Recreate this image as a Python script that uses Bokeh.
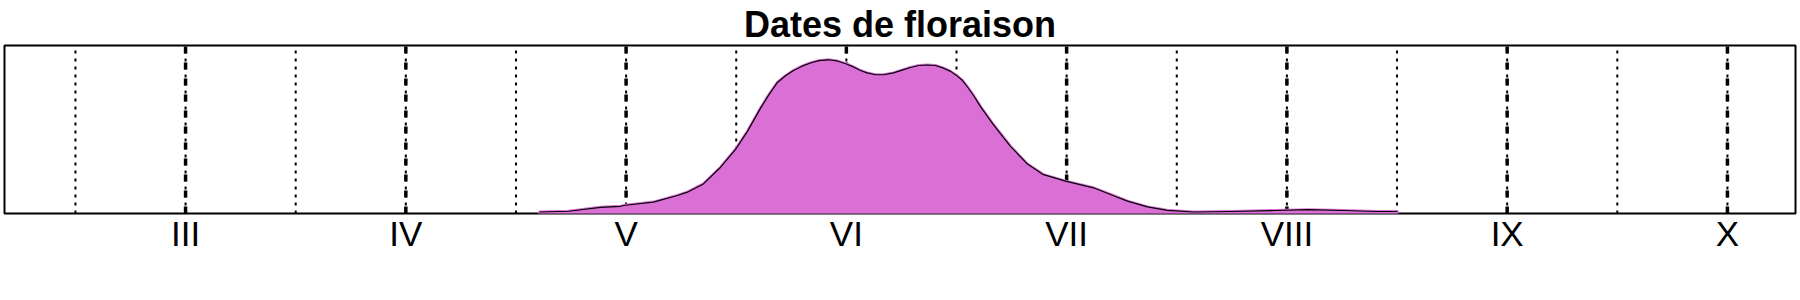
from bokeh.plotting import figure
from bokeh.models import Range1d, FixedTicker, LinearAxis
from bokeh.embed import file_html
from bokeh.resources import INLINE

# Month positions and labels (roman numerals)
months = [3, 4, 5, 6, 7, 8, 9, 10]
month_labels = ["III", "IV", "V", "VI", "VII", "VIII", "IX", "X"]
half_months = [2.5, 3.5, 4.5, 5.5, 6.5, 7.5, 8.5, 9.5]

# Density of flowering dates (x in months, y relative density)
dens_x = [4.607, 4.739, 4.884, 4.975, 4.997, 5.124, 5.233, 5.278, 5.351, 5.428,
          5.497, 5.551, 5.610, 5.648, 5.687, 5.724, 5.760, 5.799, 5.837,
          5.875, 5.919, 5.958, 6.000, 6.034, 6.064, 6.094, 6.132, 6.170, 6.214,
          6.253, 6.291, 6.329, 6.368, 6.404, 6.441, 6.473, 6.500, 6.526, 6.550,
          6.578, 6.609, 6.668, 6.745, 6.822, 6.895, 6.999, 7.122, 7.199, 7.276,
          7.367, 7.457, 7.576, 7.744, 7.948, 8.098, 8.257, 8.406, 8.501]
dens_y = [0.009, 0.0135, 0.037, 0.043, 0.049, 0.068, 0.107, 0.127, 0.176, 0.274,
          0.382, 0.489, 0.626, 0.706, 0.780, 0.820, 0.851, 0.877, 0.896,
          0.910, 0.915, 0.908, 0.890, 0.871, 0.851, 0.837, 0.826, 0.826, 0.837,
          0.853, 0.869, 0.881, 0.884, 0.881, 0.865, 0.846, 0.822, 0.793, 0.753,
          0.701, 0.636, 0.528, 0.400, 0.294, 0.231, 0.191, 0.153, 0.113, 0.074,
          0.039, 0.019, 0.009, 0.012, 0.018, 0.023, 0.018, 0.012, 0.012]

p = figure(width=1800, height=300, output_backend="svg", toolbar_location=None,
           x_range=Range1d(2.178, 10.309), y_range=Range1d(0, 1),
           x_axis_location=None, y_axis_location=None,
           min_border_left=4, min_border_right=5, min_border_bottom=87,
           min_border_top=43, title="Dates de floraison")

p.title.align = "center"
p.title.text_font = "Liberation Sans"
p.title.text_font_size = "36px"
p.title.text_font_style = "bold"
p.title.text_color = "black"
p.title.standoff = 2

p.grid.visible = False
p.outline_line_color = "black"
p.outline_line_width = 2
p.background_fill_color = "white"
p.border_fill_color = "white"

# Half-month dotted lines
for hm in half_months:
    p.segment(x0=[hm], y0=[0], x1=[hm], y1=[1], line_color="black",
              line_width=2, line_dash="3 5")
# Month dash-dot lines
for m in months:
    p.segment(x0=[m], y0=[0], x1=[m], y1=[1], line_color="black",
              line_width=2, line_dash="3 5")
    p.segment(x0=[m], y0=[0], x1=[m], y1=[1], line_color="black",
              line_width=3.5, line_dash="7 9")

# Density polygon
px = [dens_x[0]] + dens_x + [dens_x[-1]]
py = [0] + dens_y + [0]
p.patch(px, py, fill_color="#DA70D6", line_color="#DA70D6", line_width=3,
        line_join="round")
p.line(dens_x, dens_y, line_color="black", line_width=1.2, line_join="round")

xaxis = LinearAxis(ticker=FixedTicker(ticks=months))
xaxis.major_label_overrides = {m: lab for m, lab in zip(months, month_labels)}
xaxis.major_label_text_font = "Liberation Sans"
xaxis.major_label_text_font_size = "35px"
xaxis.major_label_text_color = "black"
xaxis.major_label_standoff = -6
xaxis.major_tick_line_color = None
xaxis.minor_tick_line_color = None
xaxis.axis_line_color = None
p.add_layout(xaxis, "below")

open("out.html", "w").write(file_html(p, INLINE))
